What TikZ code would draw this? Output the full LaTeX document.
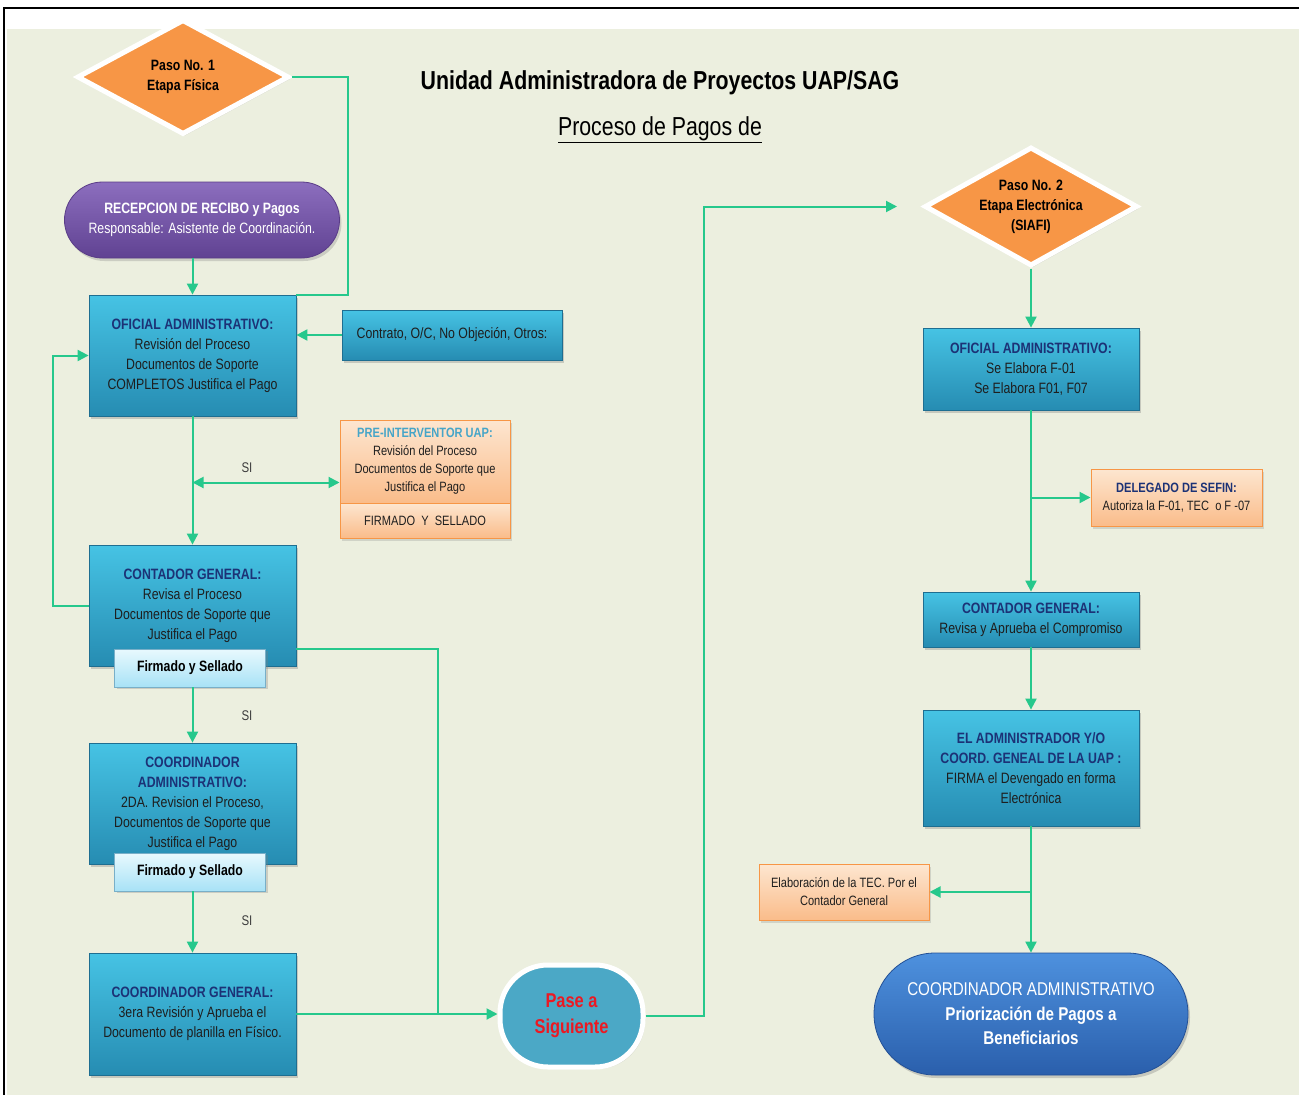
\documentclass[tikz,border=0pt]{standalone}
\usepackage{fontspec}
\setmainfont{Liberation Sans}[FakeStretch=0.82]
\usetikzlibrary{shapes.geometric,arrows.meta,calc,shadows}

\definecolor{pageGreen}{RGB}{236,239,223}
\definecolor{lineGreen}{RGB}{38,200,140}
\definecolor{stepOrange}{RGB}{247,150,70}
\definecolor{blueTop}{RGB}{70,195,228}
\definecolor{blueBottom}{RGB}{38,140,178}
\definecolor{blueEdge}{RGB}{30,110,145}
\definecolor{peachTop}{RGB}{253,230,208}
\definecolor{peachBottom}{RGB}{250,188,138}
\definecolor{signTop}{RGB}{232,249,254}
\definecolor{signBottom}{RGB}{168,226,246}
\definecolor{signEdge}{RGB}{120,175,200}
\definecolor{purpleTop}{RGB}{140,110,190}
\definecolor{purpleBottom}{RGB}{96,66,146}
\definecolor{purpleEdge}{RGB}{90,60,135}
\definecolor{paseTeal}{RGB}{75,168,198}
\definecolor{paseRed}{RGB}{235,25,35}
\definecolor{pillTop}{RGB}{78,145,222}
\definecolor{pillBottom}{RGB}{42,95,172}
\definecolor{pillEdge}{RGB}{35,80,150}
\definecolor{titleBlue}{RGB}{28,50,118}
\definecolor{preTitle}{RGB}{70,165,200}
\definecolor{bodyText}{RGB}{30,30,30}
\definecolor{siGray}{RGB}{60,60,60}

\begin{document}
\begin{tikzpicture}
[x=1pt,y=-1pt,
  lineDecorate/.style={-,line width=2pt,draw=lineGreen},
  arrowDecorate/.style={lineDecorate,-{Triangle[length=11pt,width=11pt]}},
  twoWayDecorate/.style={lineDecorate,{Triangle[length=11pt,width=11pt]}-{Triangle[length=11pt,width=11pt]}},
  stepDecorate/.style={shape=diamond,aspect=1.79,inner sep=0pt,align=center,fill=stepOrange,draw=white,line width=5pt,
    font=\bfseries\fontsize{15}{20}\selectfont,drop shadow={opacity=0.25,shadow xshift=2pt,shadow yshift=-2pt}},
  blueDecorate/.style={rectangle,inner sep=0pt,align=center,top color=blueTop,bottom color=blueBottom,
    draw=blueEdge,line width=0.8pt,text=bodyText,font=\fontsize{15}{20}\selectfont,
    drop shadow={opacity=0.35,shadow xshift=2pt,shadow yshift=-3pt}},
  orangeDecorate/.style={rectangle,inner sep=0pt,align=center,top color=peachTop,bottom color=peachBottom,
    draw=stepOrange,line width=1pt,text=bodyText,font=\fontsize{13.5}{18}\selectfont,
    drop shadow={opacity=0.25,shadow xshift=2pt,shadow yshift=-3pt}},
  signDecorate/.style={rectangle,inner sep=0pt,align=center,top color=signTop,bottom color=signBottom,
    draw=signEdge,line width=0.8pt,text=black,font=\bfseries\fontsize{15}{20}\selectfont,
    minimum width=151pt,minimum height=38pt,drop shadow={opacity=0.3,shadow xshift=2pt,shadow yshift=-2pt}},
  siDecorate/.style={font=\fontsize{14}{16}\selectfont,text=siGray}]
\useasboundingbox (0,0) rectangle (1299,1095);
%% page
\fill[white] (0,0) rectangle (1299,1095);
\fill[pageGreen] (7,29) rectangle (1299,1095);
\draw[line width=2pt] (4,1095) -- (4,8) -- (1299,8);
%% titles
\node[font=\bfseries\fontsize{26}{30}\selectfont] (title) at (660,83) {Unidad Administradora de Proyectos UAP/SAG};
\node[font=\fontsize{26}{30}\selectfont] (subtitle) at (660,130) {\underline{Proceso de Pagos de}};
%% left column: etapa fisica
\node[stepDecorate,minimum width=212pt,minimum height=115pt] (paso1) at (183,77) {Paso No. 1\\Etapa Física};
\node[rectangle,rounded corners=38pt,minimum width=275pt,minimum height=76pt,inner sep=0pt,align=center,
  top color=purpleTop,bottom color=purpleBottom,draw=purpleEdge,line width=0.8pt,text=white,
  font=\fontsize{15}{20}\selectfont,drop shadow={opacity=0.3,shadow xshift=2pt,shadow yshift=-3pt}]
  (recep) at (202,220) {\textbf{RECEPCION DE RECIBO y Pagos}\\Responsable: Asistente de Coordinación.};
\node[blueDecorate,minimum width=207pt,minimum height=121pt] (ofiAdm) at (192.5,355.5)
  {\textcolor{titleBlue}{\textbf{OFICIAL ADMINISTRATIVO:}}\\Revisión del Proceso\\Documentos de Soporte\\COMPLETOS Justifica el Pago};
\node[blueDecorate,minimum width=220pt,minimum height=50pt] (contrato) at (452,335) {Contrato, O/C, No Objeción, Otros:};
\node[orangeDecorate,minimum width=170pt,minimum height=83pt] (preNode) at (425,461.5)
  {\textcolor{preTitle}{\textbf{PRE-INTERVENTOR UAP:}}\\Revisión del Proceso\\Documentos de Soporte que\\Justifica el Pago};
\node[orangeDecorate,minimum width=170pt,minimum height=35pt] (preSign) at (425,520.5) {FIRMADO\ \ Y\ \ SELLADO};
\coordinate (preMid) at ($(preNode.west)!0.5!(preNode.south west)$);
\node[blueDecorate,minimum width=207pt,minimum height=121pt] (contGen) at (192.5,605.5)
  {\textcolor{titleBlue}{\textbf{CONTADOR GENERAL:}}\\Revisa el Proceso\\Documentos de Soporte que\\Justifica el Pago};
\node[signDecorate] (contSign) at (190,668) {Firmado y Sellado};
\node[blueDecorate,minimum width=207pt,minimum height=121pt] (coordAdm) at (192.5,803.5)
  {\textcolor{titleBlue}{\textbf{COORDINADOR}}\\\textcolor{titleBlue}{\textbf{ADMINISTRATIVO:}}\\2DA. Revision el\ Proceso,\\Documentos de Soporte que\\Justifica el Pago};
\node[signDecorate] (coordSign) at (190,872) {Firmado y Sellado};
\node[blueDecorate,minimum width=207pt,minimum height=122pt] (coordGen) at (192.5,1014)
  {\textcolor{titleBlue}{\textbf{COORDINADOR GENERAL:}}\\3era\ Revisión y Aprueba el\\Documento de planilla en Físico.};
\node[rectangle,rounded corners=48pt,minimum width=143pt,minimum height=102pt,inner sep=0pt,align=center,
  fill=paseTeal,draw=white,line width=5pt,text=paseRed,font=\bfseries\fontsize{20}{26}\selectfont,
  drop shadow={opacity=0.25,shadow xshift=2pt,shadow yshift=-2pt}]
  (paseBox) at (571.5,1016) {Pase a\\Siguiente};
\coordinate (joinPt) at (438,1014);
%% right column: etapa electronica
\node[stepDecorate,minimum width=213pt,minimum height=119pt] (paso2) at (1031,206.5) {Paso No. 2\\Etapa Electrónica\\(SIAFI)};
\node[blueDecorate,minimum width=216pt,minimum height=82pt] (ofiAdm2) at (1031,369)
  {\textcolor{titleBlue}{\textbf{OFICIAL ADMINISTRATIVO:}}\\Se Elabora F-01\\Se Elabora F01, F07};
\node[orangeDecorate,minimum width=171pt,minimum height=57pt] (delegado) at (1176.5,497.5)
  {\textcolor{titleBlue}{\textbf{DELEGADO DE SEFIN:}}\\Autoriza la F-01, TEC\ \ o F -07};
\node[blueDecorate,minimum width=216pt,minimum height=55pt] (contGen2) at (1031,619.5)
  {\textcolor{titleBlue}{\textbf{CONTADOR GENERAL:}}\\Revisa y Aprueba el Compromiso};
\node[blueDecorate,minimum width=216pt,minimum height=116pt] (adminBox) at (1031,768)
  {\textcolor{titleBlue}{\textbf{EL ADMINISTRADOR Y/O}}\\\textcolor{titleBlue}{\textbf{COORD. GENEAL DE LA UAP :}}\\FIRMA el Devengado en forma\\Electrónica};
\node[orangeDecorate,minimum width=170pt,minimum height=56pt] (elabBox) at (844,892)
  {Elaboración de la TEC.\ Por el\\Contador General};
\node[rectangle,rounded corners=61pt,minimum width=314pt,minimum height=122pt,inner sep=0pt,align=center,
  top color=pillTop,bottom color=pillBottom,draw=pillEdge,line width=0.8pt,text=white,
  font=\fontsize{18.5}{24.5}\selectfont,drop shadow={opacity=0.35,shadow xshift=2pt,shadow yshift=-3pt}]
  (coordPill) at (1031,1014) {COORDINADOR ADMINISTRATIVO\\\textbf{Priorización de Pagos a}\\\textbf{Beneficiarios}};
%% SI labels
\foreach \labelname/\x/\y in {si1/247/468, si2/247/716, si3/247/921}
{
  \node[siDecorate] (\labelname) at (\x,\y) {SI};
}
%% connectors
\draw[lineDecorate] (paso1.east) -| ([xshift=52pt]ofiAdm.north east) -- (ofiAdm.north east);
\draw[arrowDecorate] (recep.south -| ofiAdm.north) -- (ofiAdm.north);
\draw[arrowDecorate] (contrato.west) -- (contrato.west -| ofiAdm.east);
\draw[twoWayDecorate] (ofiAdm.south |- preMid) -- (preMid);
\draw[arrowDecorate] (contGen.west) -- ++(-36,0) |- (ofiAdm.west);
\draw[arrowDecorate] (contGen.south |- contSign.south) -- (coordAdm.north);
\draw[arrowDecorate] (coordAdm.south |- coordSign.south) -- (coordGen.north);
\draw[lineDecorate] (contGen.east |- contSign.north) -| (joinPt);
\draw[arrowDecorate] (coordGen.east) -- (coordGen.east -| paseBox.west);
\draw[arrowDecorate] (paseBox.east) -| ([xshift=-218pt]paso2.west) -- ([xshift=-25pt]paso2.west);
\draw[arrowDecorate] (ofiAdm2.south |- delegado.west) -- (delegado.west);
\draw[arrowDecorate] (adminBox.south |- elabBox.east) -- (elabBox.east);
\path
\foreach \startnode/\endnode in {ofiAdm/contGen, paso2/ofiAdm2, ofiAdm2/contGen2, contGen2/adminBox, adminBox/coordPill}
{
  (\startnode.south) edge[arrowDecorate] (\endnode.north)
};
\end{tikzpicture}
\end{document}
